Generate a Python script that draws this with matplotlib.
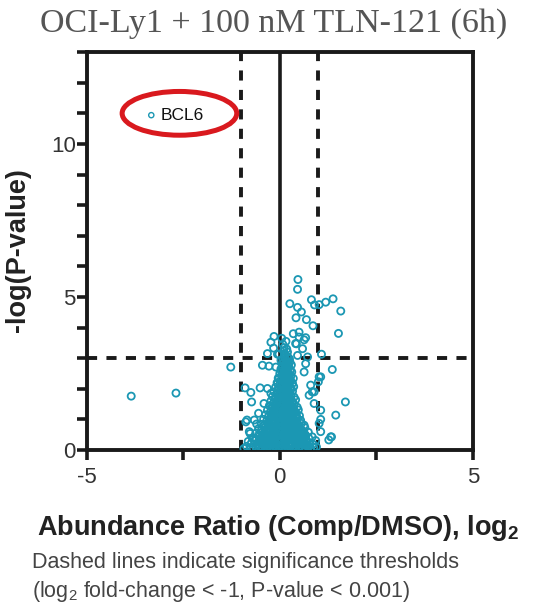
import matplotlib
matplotlib.use("Agg")
import matplotlib.pyplot as plt
from matplotlib.patches import Ellipse

plt.rcParams['font.family'] = ['Liberation Sans', 'DejaVu Sans']
plt.rcParams['mathtext.fontset'] = 'custom'
plt.rcParams['mathtext.rm'] = 'Liberation Sans'
plt.rcParams['mathtext.bf'] = 'Liberation Sans:bold'

core_pts = [
    (-0.93, 0.05), (-0.86, 0.12), (-0.78, 0.03), (-0.70, 0.08), (-0.62, 0.10), (-0.55, 0.04),
    (-0.47, 0.07), (-0.40, 0.11), (-0.33, 0.02), (-0.25, 0.06), (-0.18, 0.09), (-0.10, 0.03),
    (-0.03, 0.10), (0.05, 0.05), (0.12, 0.08), (0.20, 0.02), (0.27, 0.11), (0.35, 0.06),
    (0.42, 0.04), (0.50, 0.09), (0.57, 0.03), (0.65, 0.07), (0.72, 0.12), (0.80, 0.05),
    (0.88, 0.08), (0.95, 0.10),
    (-0.82, 0.28), (-0.74, 0.22), (-0.66, 0.30), (-0.58, 0.19), (-0.50, 0.26), (-0.42, 0.21),
    (-0.34, 0.29), (-0.26, 0.18), (-0.18, 0.25), (-0.10, 0.22), (-0.02, 0.30), (0.06, 0.20),
    (0.14, 0.27), (0.22, 0.19), (0.30, 0.24), (0.38, 0.29), (0.46, 0.21), (0.54, 0.27),
    (0.62, 0.20), (0.70, 0.28), (0.78, 0.23), (0.86, 0.19), (0.93, 0.31),
    (-0.70, 0.40), (-0.61, 0.35), (-0.53, 0.44), (-0.45, 0.37), (-0.37, 0.42), (-0.29, 0.34),
    (-0.21, 0.41), (-0.13, 0.38), (-0.05, 0.45), (0.03, 0.36), (0.11, 0.43), (0.19, 0.39),
    (0.27, 0.35), (0.35, 0.44), (0.43, 0.38), (0.51, 0.41), (0.59, 0.36), (0.67, 0.45),
    (0.75, 0.39), (0.84, 0.43),
    (-0.62, 0.55), (-0.54, 0.50), (-0.46, 0.58), (-0.38, 0.52), (-0.30, 0.57), (-0.22, 0.49),
    (-0.14, 0.56), (-0.06, 0.53), (0.02, 0.60), (0.10, 0.51), (0.18, 0.57), (0.26, 0.54),
    (0.34, 0.49), (0.42, 0.59), (0.50, 0.52), (0.58, 0.56), (0.66, 0.50), (0.74, 0.58),
    (-0.55, 0.70), (-0.47, 0.66), (-0.39, 0.73), (-0.31, 0.68), (-0.23, 0.75), (-0.15, 0.65),
    (-0.07, 0.71), (0.01, 0.67), (0.09, 0.74), (0.17, 0.69), (0.25, 0.72), (0.33, 0.66),
    (0.41, 0.75), (0.49, 0.70), (0.57, 0.65), (0.65, 0.73),
    (-0.48, 0.84), (-0.40, 0.80), (-0.32, 0.88), (-0.24, 0.82), (-0.16, 0.90), (-0.08, 0.81),
    (0.00, 0.86), (0.08, 0.83), (0.16, 0.89), (0.24, 0.80), (0.32, 0.85), (0.40, 0.88),
    (0.48, 0.82), (0.56, 0.87), (0.63, 0.81),
    (-0.42, 1.00), (-0.34, 0.95), (-0.26, 1.03), (-0.18, 0.97), (-0.10, 1.05), (-0.02, 0.98),
    (0.06, 1.02), (0.14, 0.96), (0.22, 1.04), (0.30, 0.99), (0.38, 0.95), (0.46, 1.03),
    (0.54, 0.97),
    (-0.37, 1.15), (-0.29, 1.10), (-0.21, 1.18), (-0.13, 1.12), (-0.05, 1.20), (0.03, 1.11),
    (0.11, 1.17), (0.19, 1.13), (0.27, 1.19), (0.35, 1.10), (0.43, 1.16), (0.51, 1.12),
    (-0.32, 1.30), (-0.24, 1.25), (-0.16, 1.33), (-0.08, 1.27), (0.00, 1.35), (0.08, 1.26),
    (0.16, 1.32), (0.24, 1.28), (0.32, 1.34), (0.40, 1.25), (0.48, 1.31),
    (-0.27, 1.45), (-0.19, 1.40), (-0.11, 1.48), (-0.03, 1.42), (0.05, 1.50), (0.13, 1.41),
    (0.21, 1.47), (0.29, 1.43), (0.37, 1.49), (0.45, 1.40),
    (-0.23, 1.60), (-0.15, 1.55), (-0.07, 1.63), (0.01, 1.57), (0.09, 1.65), (0.17, 1.56),
    (0.25, 1.62), (0.33, 1.58), (0.41, 1.64),
    (-0.19, 1.75), (-0.11, 1.70), (-0.03, 1.78), (0.05, 1.72), (0.13, 1.80), (0.21, 1.71),
    (0.29, 1.77), (0.37, 1.73),
    (-0.15, 1.90), (-0.07, 1.85), (0.01, 1.93), (0.09, 1.87), (0.17, 1.95), (0.25, 1.86),
    (0.33, 1.92),
    (-0.11, 2.05), (-0.03, 2.00), (0.05, 2.08), (0.13, 2.02), (0.21, 2.10), (0.29, 2.03),
    (0.36, 2.07),
    (-0.07, 2.20), (0.01, 2.15), (0.09, 2.23), (0.17, 2.17), (0.25, 2.25), (0.33, 2.18),
    (-0.04, 2.35), (0.04, 2.30), (0.12, 2.38), (0.20, 2.32), (0.28, 2.40), (0.35, 2.34),
    (0.00, 2.50), (0.08, 2.45), (0.16, 2.53), (0.24, 2.47), (0.31, 2.55),
    (0.03, 2.65), (0.11, 2.60), (0.19, 2.68), (0.27, 2.62),
    (0.06, 2.80), (0.14, 2.75), (0.22, 2.83), (0.30, 2.78),
    (0.09, 2.95), (0.17, 2.90), (0.25, 2.98),
    (0.12, 3.10), (0.20, 3.05),
]

# second, staggered pass through the solid middle of the core
core_pts2 = [
    (-0.58, 0.16), (-0.51, 0.12),
    (-0.43, 0.18), (-0.36, 0.15), (-0.29, 0.13), (-0.21, 0.17), (-0.14, 0.14), (-0.06, 0.16),
    (0.01, 0.12), (0.09, 0.18), (0.16, 0.15), (0.24, 0.13), (0.31, 0.17), (0.39, 0.14),
    (0.46, 0.16), (0.54, 0.12), (0.61, 0.18), (0.69, 0.15), (0.76, 0.13),
    (-0.52, 0.31), (-0.44, 0.33), (-0.36, 0.32),
    (-0.28, 0.35), (-0.20, 0.31), (-0.12, 0.33), (-0.04, 0.32), (0.04, 0.34), (0.12, 0.31),
    (0.20, 0.33), (0.28, 0.32), (0.36, 0.35), (0.44, 0.31), (0.52, 0.33), (0.60, 0.32),
    (0.68, 0.34),
    (-0.41, 0.47), (-0.33, 0.46), (-0.25, 0.48),
    (-0.17, 0.47), (-0.09, 0.46), (-0.01, 0.48), (0.07, 0.47), (0.15, 0.46), (0.23, 0.48),
    (0.31, 0.47), (0.39, 0.46), (0.47, 0.48), (0.55, 0.47), (0.63, 0.46),
    (-0.34, 0.62), (-0.26, 0.63), (-0.18, 0.61),
    (-0.10, 0.62), (-0.02, 0.63), (0.06, 0.61), (0.14, 0.62), (0.22, 0.63), (0.30, 0.61),
    (0.38, 0.62), (0.46, 0.63), (0.54, 0.61),
    (-0.27, 0.77), (-0.19, 0.78), (-0.11, 0.76),
    (-0.03, 0.77), (0.05, 0.78), (0.13, 0.76), (0.21, 0.77), (0.29, 0.78), (0.37, 0.76),
    (0.45, 0.77),
    (-0.28, 0.91), (-0.20, 0.92), (-0.12, 0.93), (-0.04, 0.91),
    (0.04, 0.92), (0.12, 0.93), (0.20, 0.91), (0.28, 0.92), (0.36, 0.93), (0.44, 0.91),
    (-0.22, 1.06), (-0.14, 1.07), (-0.06, 1.08), (0.02, 1.06),
    (0.10, 1.07), (0.18, 1.08), (0.26, 1.06), (0.34, 1.07), (0.42, 1.08),
    (-0.17, 1.21), (-0.09, 1.22), (-0.01, 1.23), (0.07, 1.21),
    (0.15, 1.22), (0.23, 1.23), (0.31, 1.21), (0.39, 1.22),
    (-0.21, 1.38), (-0.12, 1.36), (-0.04, 1.37), (0.04, 1.38), (0.12, 1.36),
    (0.20, 1.37), (0.28, 1.38), (0.36, 1.36),
    (-0.16, 1.53), (-0.08, 1.51), (0.00, 1.52), (0.08, 1.53), (0.16, 1.51),
    (0.24, 1.52), (0.32, 1.53),
    (-0.12, 1.68), (-0.04, 1.66), (0.04, 1.67), (0.12, 1.68), (0.20, 1.66),
    (0.28, 1.67),
    (-0.08, 1.83), (0.00, 1.81), (0.08, 1.82), (0.16, 1.83), (0.24, 1.81),
    (-0.04, 1.98), (0.04, 1.96), (0.12, 1.97), (0.20, 1.98), (0.28, 1.96),
    (0.00, 2.13), (0.08, 2.11), (0.16, 2.12), (0.24, 2.13),
    (0.04, 2.27), (0.12, 2.29), (0.20, 2.28), (0.28, 2.27),
    (0.08, 2.42), (0.16, 2.44), (0.24, 2.43),
    (0.04, 2.58), (0.12, 2.57), (0.20, 2.59), (0.27, 2.58),
    (0.07, 2.72), (0.15, 2.71), (0.23, 2.73),
    (0.10, 2.87), (0.18, 2.86), (0.26, 2.88),
    (0.14, 3.02), (0.22, 3.01),
    (0.10, 3.25), (0.18, 3.30), (0.08, 3.45), (0.16, 3.55), (0.05, 3.65),
]

# scattered proteins around the core
sparse_pts = [
    (0.47, 5.57), (0.46, 5.25), (0.26, 4.78), (0.82, 4.91), (0.90, 4.74), (1.02, 4.75),
    (1.19, 4.83), (1.38, 4.94), (1.58, 4.54), (0.46, 4.66), (0.56, 4.51), (0.42, 4.32),
    (0.69, 4.26), (0.86, 4.06), (1.52, 3.81), (-0.15, 3.71), (-0.23, 3.52), (-0.16, 3.33),
    (0.35, 3.80), (0.50, 3.85), (0.63, 3.60), (0.43, 3.47), (1.08, 3.13), (0.11, 3.34),
    (-0.06, 3.13), (0.41, 3.48), (0.50, 3.69), (0.67, 3.67), (0.59, 3.31), (0.46, 3.09),
    (0.72, 3.04), (0.67, 2.82), (0.63, 2.55), (0.20, 3.20), (-0.32, 3.15),
    (-1.27, 2.71), (-0.45, 2.77), (-0.28, 2.74), (-0.10, 2.71), (0.03, 2.93), (-0.02, 3.13),
    (1.02, 2.39), (1.00, 2.23), (1.36, 2.63), (1.06, 2.39), (0.80, 2.12), (0.84, 1.90),
    (0.89, 1.90), (0.76, 1.79), (0.89, 1.52), (1.06, 1.30), (1.70, 1.57), (1.45, 1.14),
    (1.06, 1.00), (1.02, 0.87), (1.06, 0.60), (1.32, 0.43), (1.27, 0.33), (1.34, 0.43),
    (-0.90, 2.03), (-0.75, 1.88), (-0.73, 1.57), (-0.51, 2.03), (-0.32, 2.01), (-0.23, 1.85),
    (-0.41, 1.52), (-0.06, 2.17), (-0.02, 2.34), (-0.88, 0.92), (-0.85, 0.98), (-0.66, 0.98),
    (-0.79, 0.60), (-0.71, 0.38), (-0.77, 0.54), (-0.55, 1.20), (-0.60, 0.85),
    (-3.85, 1.76), (-2.69, 1.86),
]

bcl6_x = [-3.33]
bcl6_y = [10.94]

teal = '#1b97b3'

fig = plt.figure(figsize=(5.36, 6.06), dpi=100)
ax = fig.add_axes([0.162, 0.2574, 0.72, 0.6566])

all_pts = core_pts + core_pts2 + sparse_pts
cx = [p[0] for p in all_pts]
cy = [p[1] for p in all_pts]
ax.scatter(cx, cy, s=26, facecolors='none', edgecolors=teal, linewidths=1.3, zorder=3)
ax.scatter(bcl6_x, bcl6_y, s=14, facecolors='none', edgecolors=teal, linewidths=1.0, zorder=3)
ax.text(-3.08, 10.94, 'BCL6', fontsize=12.5, va='center', ha='left', color='#111111')
ax.add_patch(Ellipse((-2.6, 11.0), 2.97, 1.43, fill=False, edgecolor='#d9191e', lw=3.6, zorder=4))

# threshold lines
ax.axvline(0, color='#1a1a1a', lw=2.6, zorder=2)
for xv in (-1, 1):
    ax.axvline(xv, color='#1a1a1a', lw=2.8, ls=(0, (2.6, 2.4)), zorder=2)
ax.axhline(3, color='#1a1a1a', lw=2.8, ls=(0, (2.6, 2.4)), zorder=2)

ax.set_xlim(-5, 5)
ax.set_ylim(0, 13)
ax.set_xticks([-5, -2.5, 0, 2.5, 5])
ax.set_xticklabels(['-5', '', '0', '', '5'])
ax.set_yticks(range(0, 14))
ax.set_yticklabels(['0', '', '', '', '', '5', '', '', '', '', '10', '', '', ''])
for sp in ax.spines.values():
    sp.set_linewidth(2.8)
    sp.set_color('#1a1a1a')
    sp.set_capstyle('projecting')
ax.tick_params(direction='out', length=7, width=2.6, color='#1a1a1a',
               labelsize=16, labelcolor='#333333')
ax.tick_params(axis='y', pad=1)
ax.tick_params(axis='x', pad=5)

fig.text(0.51, 0.947, 'OCI-Ly1 + 100 nM TLN-121 (6h)', ha='center', va='baseline',
         fontsize=24.5, color='#555555', family=['Liberation Serif', 'DejaVu Serif'])
fig.text(0.0336, 0.5875, '-log(P-value)', rotation=90, ha='center', va='center',
         fontsize=19.5, fontweight='bold', color='#222222')
fig.text(0.069, 0.1172, r'Abundance Ratio (Comp/DMSO), log$_{\mathbf{2}}$', ha='left',
         va='baseline', fontsize=19.5, fontweight='bold', color='#222222')
fig.text(0.06, 0.0627, 'Dashed lines indicate significance thresholds', ha='left',
         va='baseline', fontsize=15.5, color='#444444')
fig.text(0.06, 0.0149, r'(log$_2$ fold-change < -1, P-value < 0.001)', ha='left',
         va='baseline', fontsize=15.5, color='#444444')

fig.savefig('out.png', dpi=100)
